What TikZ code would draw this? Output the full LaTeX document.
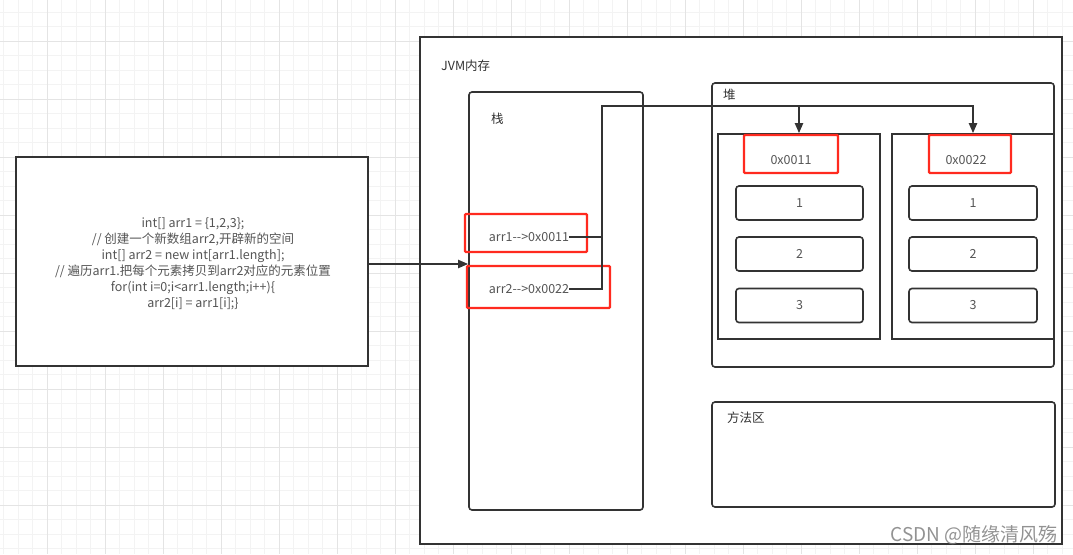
\documentclass[tikz,border=0pt]{standalone}
\usepackage{fontspec}
\setmainfont[Ligatures=NoCommon]{Noto Sans CJK SC}
\usetikzlibrary{arrows.meta}
\definecolor{ln}{HTML}{333333}
\definecolor{tx}{HTML}{555555}
\definecolor{rd}{HTML}{FF2A1F}
\definecolor{gmin}{HTML}{F3F3F3}
\definecolor{gmaj}{HTML}{E4E4E4}
\begin{document}
\begin{tikzpicture}[x=1pt,y=-1pt,
 box/.style={draw=ln,line width=1.6pt,fill=white,inner sep=0pt},
 rbox/.style={box,rounded corners=3pt},
 redbox/.style={draw=rd,line width=2.4pt,rounded corners=1pt,inner sep=0pt},
 lbl/.style={text=tx,font=\fontsize{12.5}{16}\selectfont,inner sep=0pt},
 conn/.style={draw=ln,line width=2pt},
 tip/.style={-{Triangle[length=10pt,width=8pt]}}]
\useasboundingbox (0,0) rectangle (1073,554);
\fill[white] (0,0) rectangle (1073,554);
% grid
\foreach \i in {0,...,73} {\draw[gmin,line width=0.8pt] ({3.8+\i*14.5},0) -- ({3.8+\i*14.5},554);}
\foreach \i in {0,...,37} {\draw[gmin,line width=0.8pt] (0,{12.3+\i*14.5}) -- (1073,{12.3+\i*14.5});}
\foreach \i in {0,...,17} {\draw[gmaj,line width=0.8pt] ({47.3+\i*58},0) -- ({47.3+\i*58},554);}
\foreach \i in {0,...,8} {\draw[gmaj,line width=0.8pt] (0,{41.3+\i*58}) -- (1073,{41.3+\i*58});}
% code box
\node[box,minimum width=352pt,minimum height=209pt] (code) at (192,261.5) {};
\node[lbl,align=center] (codetext) at (193,264) {int[] arr1 = \{1,2,3\};\\
// 创建一个新数组arr2,开辟新的空间\\
int[] arr2 = new int[arr1.length];\\
// 遍历arr1.把每个元素拷贝到arr2对应的元素位置\\
for(int i=0;i<arr1.length;i+{}+)\{\\
arr2[i] = arr1[i];\}};
% JVM
\node[box,minimum width=642pt,minimum height=507pt] (jvm) at (741,290.5) {};
\node[lbl,text=ln,anchor=west] (jvmlbl) at (441,66) {JVM内存};
% stack
\node[rbox,minimum width=174pt,minimum height=418pt] (stack) at (556,301) {};
\node[lbl,text=ln,anchor=west] (stacklbl) at (491,119) {栈};
% heap
\node[rbox,minimum width=342pt,minimum height=284pt] (heap) at (883,225) {};
\node[lbl,text=ln,anchor=west] (heaplbl) at (723,95) {堆};
\node[box,minimum width=162pt,minimum height=205pt] (a1) at (799,236.5) {};
\node[box,minimum width=162pt,minimum height=205pt] (a2) at (973,236.5) {};
\foreach \n/\y/\v in {1/203/1,2/254/2,3/305.5/3} {
  \node[rbox,minimum width=127pt,minimum height=34pt] (e1\n) at (799.5,\y) {};
  \node[lbl] (e1t\n) at (799.5,\y) {\v};
  \node[rbox,minimum width=128pt,minimum height=34pt] (e2\n) at (973,\y) {};
  \node[lbl] (e2t\n) at (973,\y) {\v};
}
\node[redbox,minimum width=94pt,minimum height=38pt] (r11) at (791,154) {};
\node[lbl] (h1) at (791,160) {0x0011};
\node[redbox,minimum width=82pt,minimum height=38pt] (r22) at (970,154) {};
\node[lbl] (h2) at (966,160) {0x0022};
% method area
\node[rbox,minimum width=343pt,minimum height=105pt] (method) at (883.5,454.5) {};
\node[lbl,text=ln,anchor=west] (methodlbl) at (727,418) {方法区};
% stack entries
\node[redbox,minimum width=122pt,minimum height=38pt] (r1) at (526,233) {};
\node[redbox,minimum width=143pt,minimum height=42pt] (r2) at (538.5,287) {};
\node[lbl] (t1) at (529,237) {arr1-{}-{}>0x0011};
\node[lbl] (t2) at (529,289) {arr2-{}-{}>0x0022};
% connectors
\coordinate (j1) at (601.5,106);
\draw[conn,tip] (code.east |- 0,264) -- (stack.west |- 0,264);
\draw[conn,tip] (t2.east) -| (j1) -| (a2.north);
\draw[conn,tip] (t1.east) -| (j1) -| (a1.north);
% watermark
\node[text=black!50,opacity=0.85,font=\fontsize{19}{19}\selectfont,anchor=east,inner sep=0pt] (wm) at (1058,535) {CSDN @随缘清风殇};
\end{tikzpicture}
\end{document}
